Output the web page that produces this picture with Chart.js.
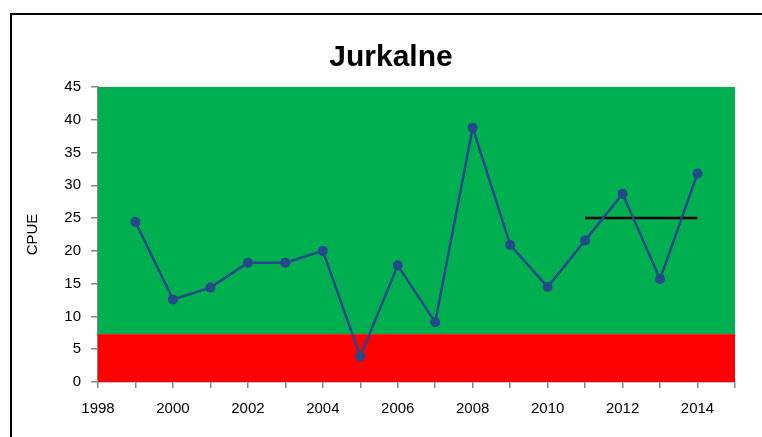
<!doctype html>
<html lang="lv">
<head>
  <meta charset="UTF-8">
  <title>Jurkalne</title>
  <script src="https://cdn.jsdelivr.net/npm/chart.js@4.4.0/dist/chart.umd.min.js"></script>
  <style>
      body {
          margin: 0;
          background: #fff;
      }
      canvas {
          display: block;
      }
  </style>
</head>
<body>

<canvas id="cpueChart" width="762" height="437"></canvas>

<script>
  // values
  const chartTitle = 'Jurkalne'
  const years = [1999, 2000, 2001, 2002, 2003, 2004, 2005, 2006, 2007, 2008, 2009, 2010, 2011, 2012, 2013, 2014]
  const cpue = [24.4, 12.6, 14.4, 18.2, 18.2, 20.0, 3.9, 17.8, 9.1, 38.8, 20.9, 14.5, 21.6, 28.7, 15.7, 31.8]
  const refYears = [2011, 2014]
  const refValues = [25, 25]
  const redLimit = 7.3
  const xTickLabels = ['1998', '2000', '2002', '2004', '2006', '2008', '2010', '2012', '2014']

  const axisColor = '#868686'
  const fontFamily = '"Liberation Sans", Arial, sans-serif'

  // green / red zones behind the series, plus frame and title
  const zones = {
    id: 'zones',
    beforeDraw(chart) {
      const {ctx} = chart
      ctx.save()
      ctx.strokeStyle = '#000'
      ctx.lineWidth = 2
      ctx.strokeRect(11, 14, 900, 600)
      ctx.fillStyle = '#000'
      ctx.font = 'bold 30px ' + fontFamily
      ctx.textAlign = 'center'
      ctx.textBaseline = 'middle'
      ctx.fillText(chartTitle, 391, 58)
      ctx.restore()
    },
    beforeDatasetsDraw(chart) {
      const {ctx, chartArea, scales} = chart
      const yTop = scales.y.getPixelForValue(redLimit)
      const yBottom = scales.y.getPixelForValue(0)
      ctx.save()
      ctx.fillStyle = '#00B050'
      ctx.fillRect(chartArea.left, chartArea.top, chartArea.right - chartArea.left, yTop - chartArea.top)
      ctx.fillStyle = '#FF0000'
      ctx.fillRect(chartArea.left, yTop, chartArea.right - chartArea.left, yBottom - yTop)
      ctx.restore()
    }
  }

  const chart = new Chart(document.querySelector('#cpueChart'), {
    type: 'line',
    plugins: [zones],
    data: {
      datasets: [
        {
          label: 'CPUE',
          data: years.map((y, i) => ({x: y, y: cpue[i]})),
          borderColor: '#254888',
          backgroundColor: '#254888',
          borderWidth: 2.5,
          pointRadius: 5,
          pointBorderWidth: 0
        },
        {
          label: 'ref',
          data: refYears.map((y, i) => ({x: y, y: refValues[i]})),
          borderColor: '#000',
          borderWidth: 2.5,
          pointRadius: 0
        }
      ]
    },
    options: {
      responsive: false,
      animation: false,
      layout: {
        padding: {top: 87, right: 27, bottom: 0, left: 0}
      },
      plugins: {
        legend: {display: false},
        tooltip: {enabled: false}
      },
      scales: {
        x: {
          type: 'linear',
          min: 1998,
          max: 2015,
          afterFit: (scale) => { scale.height = 55 },
          border: {color: axisColor, width: 1.5},
          grid: {drawOnChartArea: false, color: axisColor, tickLength: 6, lineWidth: 1.5},
          ticks: {
            stepSize: 1,
            autoSkip: false,
            maxRotation: 0,
            padding: 12,
            color: '#000',
            font: {family: fontFamily, size: 15},
            callback: (v) => xTickLabels.includes(String(v)) ? String(v) : ''
          }
        },
        y: {
          min: 0,
          max: 45,
          afterFit: (scale) => { scale.width = 98 },
          border: {color: axisColor, width: 1.5},
          grid: {drawOnChartArea: false, color: axisColor, tickLength: 7, lineWidth: 1.5},
          ticks: {
            stepSize: 5,
            padding: 10,
            color: '#000',
            font: {family: fontFamily, size: 15}
          },
          title: {
            display: true,
            text: 'CPUE',
            color: '#000',
            padding: {top: 24, bottom: 0},
            font: {family: fontFamily, size: 15}
          }
        }
      }
    }
  })
</script>

</body>
</html>
